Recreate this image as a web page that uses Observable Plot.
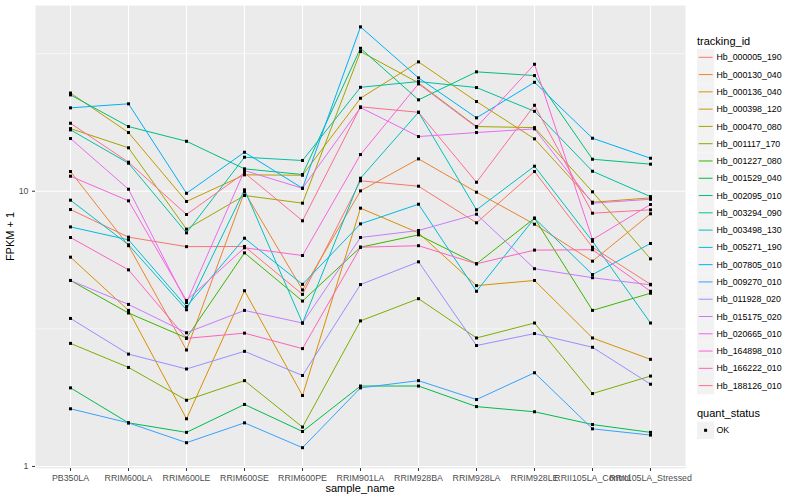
<!DOCTYPE html>
<html><head><meta charset="utf-8">
<script src="https://cdn.jsdelivr.net/npm/d3@7"></script>
<script src="https://cdn.jsdelivr.net/npm/@observablehq/plot@0.6"></script>
<style>
body{margin:0;background:#fff;font-family:"Liberation Sans",Arial,sans-serif;}
svg{display:block;}
</style></head><body>
<script>
const samples = ["PB350LA","RRIM600LA","RRIM600LE","RRIM600SE","RRIM600PE","RRIM901LA","RRIM928BA","RRIM928LA","RRIM928LE","RRII105LA_Control","RRII105LA_Stressed"];
const trackingIds = ["Hb_000005_190","Hb_000130_040","Hb_000136_040","Hb_000398_120","Hb_000470_080","Hb_001117_170","Hb_001227_080","Hb_001529_040","Hb_002095_010","Hb_003294_090","Hb_003498_130","Hb_005271_190","Hb_007805_010","Hb_009270_010","Hb_011928_020","Hb_015175_020","Hb_020665_010","Hb_164898_010","Hb_166222_010","Hb_188126_010"];
const palette = ["#F8766D","#EA8331","#D89000","#C09B00","#A3A500","#7CAE00","#39B600","#00BB4E","#00BF7D","#00C1A3","#00BFC4","#00BAE0","#00B0F6","#35A2FF","#9590FF","#C77CFF","#E76BF3","#FA62DB","#FF62BC","#FF6C91"];
const yTicks = [1, 10];

// FPKM + 1 per sample, in the order of `samples`
const Hb_000005_190 = [8.58, 6.81, 6.29, 6.30, 4.22, 10.91, 10.43, 7.68, 11.79, 6.26, 4.59];
const Hb_000130_040 = [11.79, 6.34, 2.65, 9.95, 4.38, 10.03, 13.11, 9.92, 7.59, 5.57, 8.28];
const Hb_000136_040 = [5.76, 3.69, 1.49, 4.35, 1.81, 8.68, 7.06, 4.54, 4.74, 2.93, 2.45];
const Hb_000398_120 = [22.74, 16.34, 9.18, 11.47, 11.43, 21.77, 29.51, 21.18, 15.50, 9.12, 9.46];
const Hb_000470_080 = [16.89, 14.38, 7.28, 9.65, 9.05, 32.17, 24.76, 17.18, 17.03, 9.95, 5.68];
const Hb_001117_170 = [2.80, 2.29, 1.74, 2.05, 1.39, 3.38, 4.07, 2.93, 3.32, 1.84, 2.13];
const Hb_001227_080 = [4.74, 3.61, 2.93, 5.97, 3.99, 6.26, 6.94, 5.45, 7.98, 3.69, 4.26];
const Hb_001529_040 = [1.93, 1.44, 1.33, 1.68, 1.34, 1.96, 1.96, 1.65, 1.58, 1.42, 1.33];
const Hb_002095_010 = [22.39, 17.18, 15.19, 12.06, 11.50, 33.07, 21.48, 27.15, 26.32, 13.07, 12.54];
const Hb_003294_090 = [16.71, 12.64, 7.06, 13.29, 12.93, 23.86, 25.03, 23.81, 19.52, 11.82, 9.56];
const Hb_003498_130 = [9.28, 6.39, 3.71, 10.12, 3.32, 11.15, 19.36, 8.56, 12.33, 6.58, 3.32];
const Hb_005271_190 = [7.42, 6.66, 3.81, 6.75, 4.59, 7.61, 8.97, 4.33, 7.98, 4.98, 6.46];
const Hb_007805_010 = [20.09, 20.78, 9.83, 13.86, 10.25, 39.56, 25.82, 18.48, 24.88, 15.58, 13.18];
const Hb_009270_010 = [1.62, 1.44, 1.22, 1.44, 1.17, 1.93, 2.05, 1.75, 2.19, 1.37, 1.30];
const Hb_011928_020 = [3.45, 2.56, 2.26, 2.62, 2.14, 4.58, 5.54, 2.75, 3.04, 2.71, 1.99];
const Hb_015175_020 = [4.74, 3.88, 3.06, 3.69, 3.32, 6.79, 7.20, 8.25, 5.23, 4.85, 4.57];
const Hb_020665_010 = [15.54, 10.17, 3.94, 11.89, 10.25, 20.14, 15.80, 16.34, 16.85, 9.05, 9.35];
const Hb_164898_010 = [11.34, 9.23, 4.01, 6.23, 5.84, 13.59, 24.55, 17.08, 28.93, 6.67, 8.95];
const Hb_166222_010 = [6.79, 5.18, 2.92, 3.05, 2.68, 6.26, 6.34, 5.45, 6.11, 6.13, 4.33];
const Hb_188126_010 = [17.66, 12.75, 8.23, 11.66, 7.81, 20.26, 19.36, 10.78, 20.53, 8.32, 8.56];

const seriesValues = [Hb_000005_190, Hb_000130_040, Hb_000136_040, Hb_000398_120, Hb_000470_080, Hb_001117_170, Hb_001227_080, Hb_001529_040, Hb_002095_010, Hb_003294_090, Hb_003498_130, Hb_005271_190, Hb_007805_010, Hb_009270_010, Hb_011928_020, Hb_015175_020, Hb_020665_010, Hb_164898_010, Hb_166222_010, Hb_188126_010];

const data = trackingIds.flatMap((id, i) => samples.map((s, j) => ({tracking_id: id, sample_name: s, value: seriesValues[i][j], quant_status: "OK"})));

const W = 800, H = 500, ML = 35, MR = 115, MT = 5, MB = 32;
const font = "Liberation Sans, Arial, sans-serif";

const plot = Plot.plot({
  width: W, height: H,
  marginLeft: ML, marginRight: MR, marginTop: MT, marginBottom: MB,
  style: {background: "white", fontFamily: font, color: "#4D4D4D", overflow: "visible"},
  x: {type: "point", domain: samples, padding: 0.6, label: null},
  y: {type: "log", domain: [0.983, 47.3], label: null},
  color: {domain: trackingIds, range: palette},
  marks: [
    Plot.frame({fill: "#EBEBEB", stroke: null}),
    Plot.gridY([Math.pow(10, 0.5), Math.pow(10, 1.5)], {stroke: "white", strokeOpacity: 1, strokeWidth: 0.55}),
    Plot.gridY(yTicks, {stroke: "white", strokeOpacity: 1, strokeWidth: 1.07}),
    Plot.gridX(samples, {stroke: "white", strokeOpacity: 1, strokeWidth: 1.07}),
    Plot.line(data, {x: "sample_name", y: "value", z: "tracking_id", stroke: "tracking_id", strokeWidth: 1}),
    Plot.dot(data, {x: "sample_name", y: "value", fill: "black", symbol: "square", r: 1.7}),
    Plot.axisY(yTicks, {tickSize: 3, tickPadding: 4, fontSize: 8.8, tickFormat: d => String(d), stroke: "#333333", fill: "#4D4D4D", label: null}),
    Plot.axisX(samples, {tickSize: 3, tickPadding: 3, fontSize: 8.8, stroke: "#333333", fill: "#4D4D4D", label: null})
  ]
});

document.body.appendChild(plot);

const svg = d3.select(plot);
const colorOf = plot.scale("color");
const color = d => colorOf.apply(d);

// axis titles
svg.append("text").attr("x", (ML + W - MR) / 2).attr("y", 492).attr("text-anchor", "middle")
  .attr("font-size", 11).attr("fill", "black").attr("font-family", font).text("sample_name");
svg.append("text").attr("transform", `translate(13.5,${(MT + H - MB) / 2}) rotate(-90)`).attr("text-anchor", "middle")
  .attr("font-size", 11).attr("fill", "black").attr("font-family", font).text("FPKM + 1");

// legend: tracking_id
const lg = svg.append("g").attr("font-family", font).attr("text-anchor", "start");
lg.append("text").attr("x", 697).attr("y", 44.5).attr("font-size", 11).attr("fill", "black").attr("text-anchor", "start").text("tracking_id");
const keyH = 17.28, key0 = 57.3;
trackingIds.forEach((id, i) => {
  const cy = key0 + keyH * i;
  lg.append("rect").attr("x", 697).attr("y", cy - keyH / 2).attr("width", keyH).attr("height", keyH).attr("fill", "#F2F2F2");
  lg.append("line").attr("x1", 698.7).attr("x2", 712.6).attr("y1", cy).attr("y2", cy).attr("stroke", color(id)).attr("stroke-width", 1);
  lg.append("text").attr("x", 716.5).attr("y", cy).attr("dy", "0.35em").attr("font-size", 8.8).attr("fill", "black").attr("text-anchor", "start").text(id);
});
// legend: quant_status
lg.append("text").attr("x", 697).attr("y", 416.5).attr("font-size", 11).attr("fill", "black").attr("text-anchor", "start").text("quant_status");
const qy = 430.3;
lg.append("rect").attr("x", 697).attr("y", qy - keyH / 2).attr("width", keyH).attr("height", keyH).attr("fill", "#F2F2F2");
lg.append("rect").attr("x", 705.6 - 1.5).attr("y", qy - 1.5).attr("width", 3).attr("height", 3).attr("fill", "black");
lg.append("text").attr("x", 716.5).attr("y", qy).attr("dy", "0.35em").attr("font-size", 8.8).attr("fill", "black").attr("text-anchor", "start").text("OK");
</script>
</body></html>
